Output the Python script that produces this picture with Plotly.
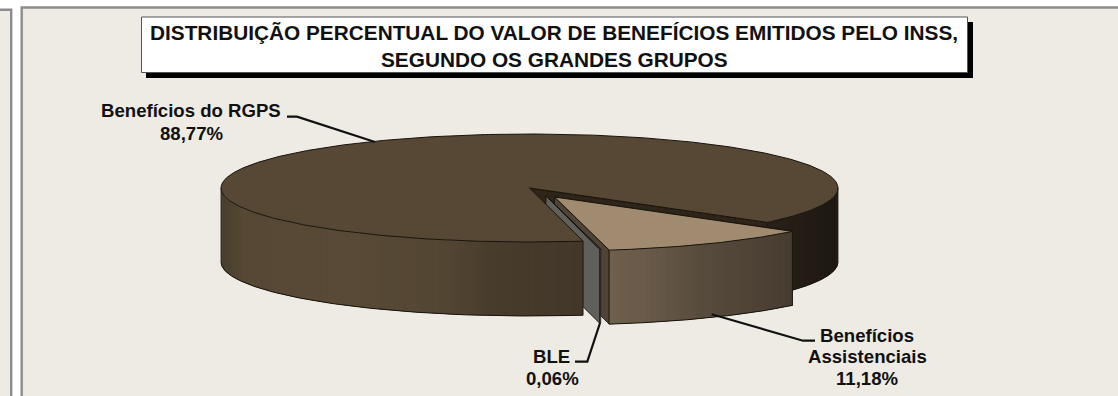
import numpy as np
import plotly.graph_objects as go

# dados
categories = ["Benefícios do RGPS", "BLE", "Benefícios Assistenciais"]
shares = [88.77, 0.06, 11.18]
share_labels = ["88,77%", "0,06%", "11,18%"]
title_lines = [
    "DISTRIBUIÇÃO PERCENTUAL DO VALOR DE BENEFÍCIOS EMITIDOS PELO INSS,",
    "SEGUNDO OS GRANDES GRUPOS",
]

# geometria do disco (pixels da janela)
W, H = 1118, 396
CX, CY, RX, RY, DEPTH = 529.5, 188, 308.5, 54, 74
START_ANGLE = 170  # graus, sentido horario a partir do norte
OFFSETS = [(0, 0), (16.5, 8), (25, 9)]

BG = "#EEEBE4"
EDGE = "#17130d"
TOP_COLORS = ["#564834", "#6e6e6a", "#A08B70"]
CUT_COLORS = ["#2E2518", "#5F5F5B", "#4F4435"]

# rampas de cor das paredes externas: (x em pixel, rgb)
MAIN_RAMP = [(221, (72, 62, 46)), (245, (86, 72, 52)), (350, (88, 74, 54)), (450, (82, 69, 50)),
             (490, (72, 60, 44)), (583, (66, 55, 41)), (760, (42, 34, 25)), (838, (30, 24, 18))]
ASSIST_RAMP = [(609, (112, 96, 78)), (650, (104, 89, 72)), (700, (88, 76, 61)), (793, (70, 60, 48))]


def project(angle, ox=0, oy=0, drop=0, radius=1.0):
    a = np.radians(angle)
    return CX + ox + radius * RX * np.sin(a), CY + oy - radius * RY * np.cos(a) + drop


def ramp_color(x, ramp):
    xs = [p[0] for p in ramp]
    rgb = [np.interp(x, xs, [p[1][i] for p in ramp]) for i in range(3)]
    return "rgb({:.0f},{:.0f},{:.0f})".format(*rgb)


fig = go.Figure()


def poly(xs, ys, fill, line=None, width=0.8):
    fig.add_trace(go.Scatter(
        x=list(xs) + [xs[0]], y=list(ys) + [ys[0]],
        mode="lines", fill="toself", fillcolor=fill,
        line=dict(color=line or fill, width=width),
        hoverinfo="skip", showlegend=False,
    ))


def outer_wall(a0, a1, ox, oy, ramp):
    """parede externa em tiras sobrepostas para fazer o degrade sem emendas"""
    n = max(2, int(abs(a1 - a0) / 1.0))
    edges = np.linspace(a0, a1, n + 1)
    for i in range(n):
        arc = np.linspace(edges[i], edges[min(i + 2, n)], 6)
        xs, ys = project(arc, ox, oy)
        xm = project((edges[i] + edges[i + 1]) / 2, ox, oy)[0]
        poly(list(xs) + list(xs[::-1]), list(ys) + list(ys[::-1] + DEPTH),
             ramp_color(xm, ramp), width=0)
    arc = np.linspace(a0, a1, n * 2)
    xb, yb = project(arc, ox, oy, DEPTH)
    fig.add_trace(go.Scatter(x=xb, y=yb, mode="lines", line=dict(color=EDGE, width=1),
                             hoverinfo="skip", showlegend=False))
    for a in (a0, a1):
        xa, ya = project(a, ox, oy)
        fig.add_trace(go.Scatter(x=[xa, xa], y=[ya, ya + DEPTH], mode="lines",
                                 line=dict(color=EDGE, width=0.8),
                                 hoverinfo="skip", showlegend=False))


def cut_wall(angle, ox, oy, color):
    xa, ya = project(angle, ox, oy)
    xc, yc = CX + ox, CY + oy
    poly([xc, xa, xa, xc], [yc, ya, ya + DEPTH, yc + DEPTH], color, EDGE, 0.8)


def top_face(a0, a1, ox, oy, color):
    arc = np.linspace(a0, a1, max(3, int(abs(a1 - a0) * 2)))
    xs, ys = project(arc, ox, oy)
    poly([CX + ox] + list(xs), [CY + oy] + list(ys), color, EDGE, 1)


# angulos de cada fatia a partir das participacoes
total = sum(shares)
spans = [s / total * 360 for s in shares]
main_a0, main_a1 = START_ANGLE, START_ANGLE + spans[0]
assist_a0, assist_a1 = main_a1 - 360, main_a1 - 360 + spans[2]
ble_a0, ble_a1 = assist_a1, assist_a1 + spans[1]

# desenha de tras para frente
cut_wall(main_a1, *OFFSETS[0], CUT_COLORS[0])
outer_wall(90, main_a1 - 360, *OFFSETS[0], MAIN_RAMP)
cut_wall(assist_a0, *OFFSETS[2], CUT_COLORS[2])
cut_wall(assist_a1, *OFFSETS[2], CUT_COLORS[2])
outer_wall(assist_a0, assist_a1, *OFFSETS[2], ASSIST_RAMP)
top_face(assist_a0, assist_a1, *OFFSETS[2], TOP_COLORS[2])
cut_wall(ble_a0, *OFFSETS[1], CUT_COLORS[1])
cut_wall(ble_a1, *OFFSETS[1], CUT_COLORS[1])
top_face(ble_a0, ble_a1, *OFFSETS[1], TOP_COLORS[1])
outer_wall(270, main_a0, *OFFSETS[0], MAIN_RAMP)
top_face(main_a0, main_a1, *OFFSETS[0], TOP_COLORS[0])

# linhas de chamada
leaders = [
    ([287, 297, 375], [116.7, 116.7, 142]),
    ([575, 587.3, 600], [361.7, 361.7, 323]),
    ([711.7, 803, 815], [314.3, 340.7, 340.7]),
]
for lx, ly in leaders:
    fig.add_trace(go.Scatter(x=lx, y=ly, mode="lines", line=dict(color="#111111", width=2.2),
                             hoverinfo="skip", showlegend=False))

shapes = [
    dict(type="rect", x0=-5, x1=11.2, y0=9.7, y1=H + 5, fillcolor=BG,
         line=dict(color="#8C8C8C", width=2.4), layer="below"),
    dict(type="rect", x0=21.7, x1=W + 5, y0=7.5, y1=H + 5, fillcolor=BG,
         line=dict(color="#8C8C8C", width=2.4), layer="below"),
    dict(type="rect", x0=146, x1=973, y0=22, y1=78, fillcolor="black",
         line=dict(width=0), layer="below"),
    dict(type="rect", x0=141.5, x1=967.5, y0=17, y1=72.5, fillcolor="white",
         line=dict(color="#555555", width=1), layer="below"),
]

text_font = dict(family="Liberation Sans", size=18.6, color="#111111")
title_font = dict(family="Liberation Sans", size=20.8, color="#111111")


def label(x, y, text, font=text_font):
    return dict(x=x, y=y, text="<b>{}</b>".format(text), showarrow=False, font=font,
                xanchor="center", yanchor="middle")


annotations = [
    label(554, 32.5, title_lines[0], title_font),
    label(554, 59, title_lines[1], title_font),
    label(191, 110.5, categories[0]),
    label(191.5, 133, share_labels[0]),
    label(551.5, 356, categories[1]),
    label(552, 378, share_labels[1]),
    label(867, 335, categories[2].split(" ")[0]),
    label(867, 356, categories[2].split(" ")[1]),
    label(867, 378, share_labels[2]),
]

fig.update_layout(
    width=W, height=H,
    margin=dict(l=0, r=0, t=0, b=0),
    paper_bgcolor="white", plot_bgcolor="white",
    xaxis=dict(range=[0, W], visible=False, fixedrange=True),
    yaxis=dict(range=[H, 0], visible=False, fixedrange=True),
    shapes=shapes, annotations=annotations,
)

fig.write_html("out.html", config={"displayModeBar": False},
               post_script="document.body.style.margin='0';document.body.style.overflow='hidden';")
